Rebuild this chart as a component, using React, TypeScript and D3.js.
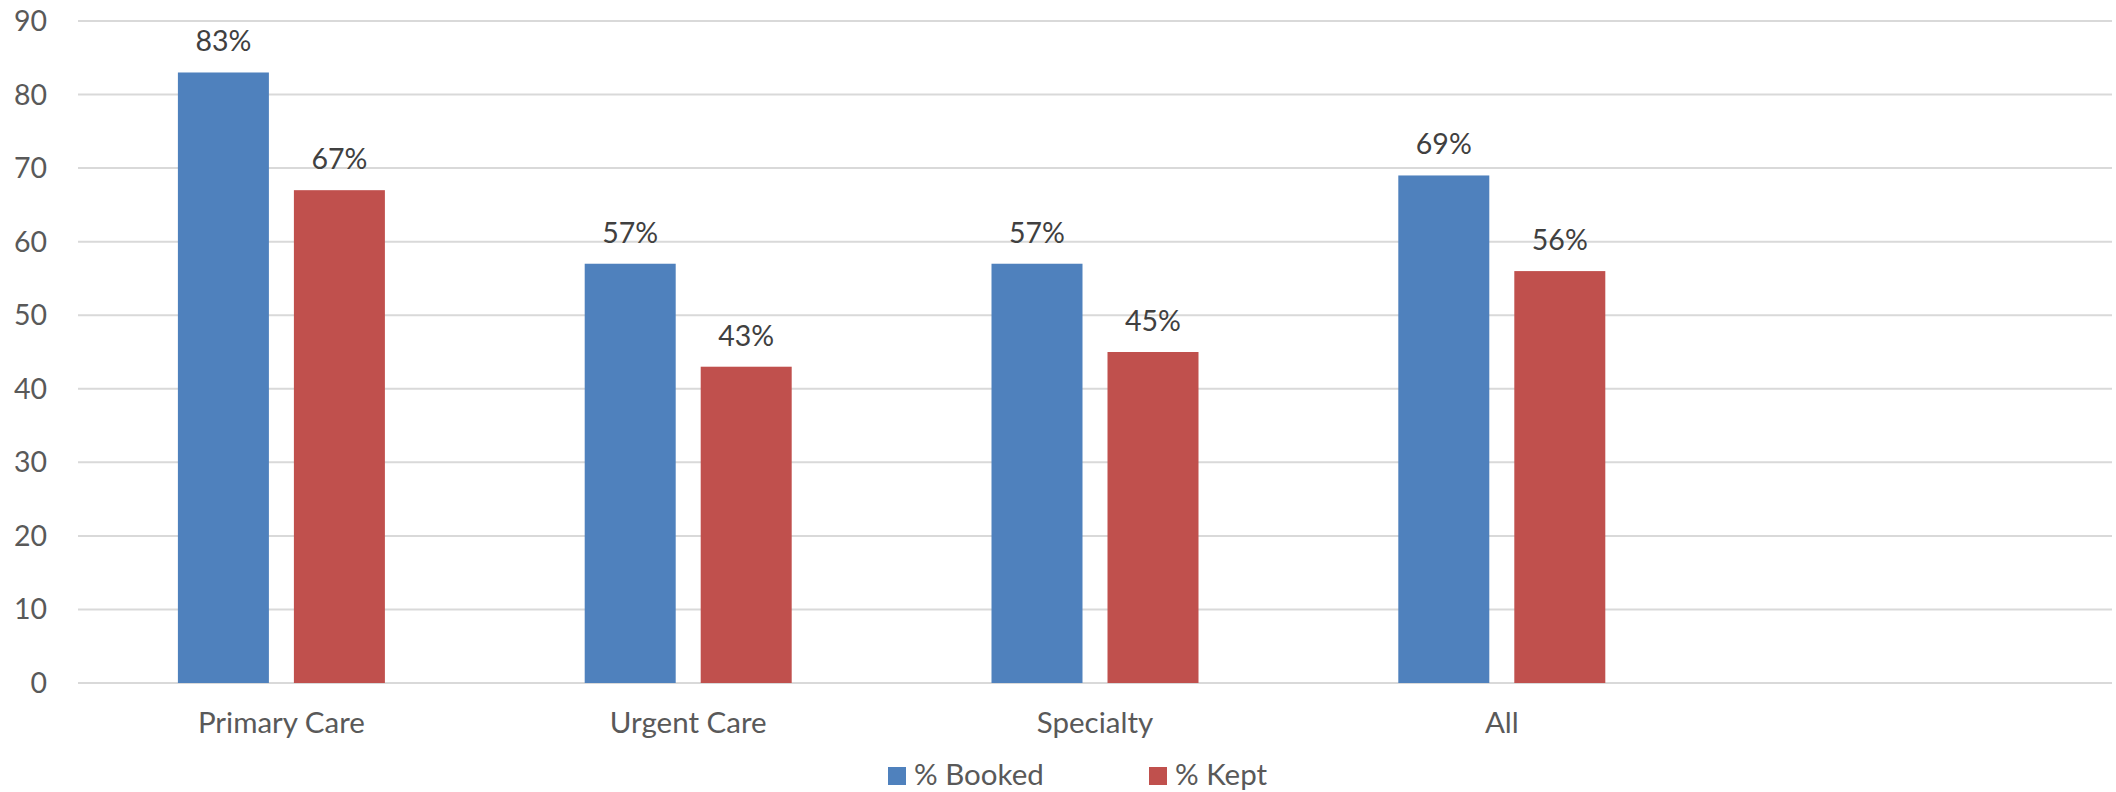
import React from "react";
import * as d3 from "d3";

// Categories along the x axis (the trailing blank slot keeps the empty space on the right)
const categories: string[] = ["Primary Care", "Urgent Care", "Specialty", "All", ""];
const seriesNames: string[] = ["% Booked", "% Kept"];
const bookedValues: number[] = [83, 57, 57, 69];
const keptValues: number[] = [67, 43, 45, 56];
const yTicks: number[] = [0, 10, 20, 30, 40, 50, 60, 70, 80, 90];
const seriesColors: string[] = ["#4F81BD", "#C0504D"];

const WIDTH = 2116;
const HEIGHT = 792;
const FONT = "Lato, 'Liberation Sans', sans-serif";

export default function App() {
  const plotLeft = 78;
  const plotRight = 2112;
  const plotTop = 21;
  const plotBottom = 683;

  const x0 = d3.scaleBand<string>().domain(categories.map((c, i) => `${i}`)).range([plotLeft, plotRight]).padding(0);
  const groupWidth = 207;
  const x1 = d3
    .scaleBand<string>()
    .domain(seriesNames)
    .range([0, groupWidth])
    .paddingInner(25 / 116)
    .paddingOuter(0);
  const y = d3.scaleLinear().domain([0, 90]).range([plotBottom, plotTop]);

  const seriesValues = [bookedValues, keptValues];

  const legendItems = [
    { name: seriesNames[0], color: seriesColors[0], x: 888 },
    { name: seriesNames[1], color: seriesColors[1], x: 1149 },
  ];

  return (
    <svg
      width={WIDTH}
      height={HEIGHT}
      style={{ position: "absolute", left: 0, top: 0, display: "block", background: "#fff" }}
      fontFamily={FONT}
    >
      {/* horizontal gridlines */}
      {yTicks.map((t) => (
        <line key={`g${t}`} x1={plotLeft} x2={plotRight} y1={y(t)} y2={y(t)} stroke="#d9d9d9" strokeWidth={2} />
      ))}
      {/* y tick labels */}
      {yTicks.map((t) => (
        <text
          key={`t${t}`}
          x={47}
          y={y(t)}
          dy="0.35em"
          textAnchor="end"
          fontSize={28.5}
          fill="#595959"
        >
          {t}
        </text>
      ))}
      {/* bars and value labels */}
      {seriesValues.map((vals, si) =>
        vals.map((v, ci) => {
          const bandStart = x0(`${ci}`)!;
          const offset = (x0.bandwidth() - groupWidth) / 2;
          const bx = bandStart + offset + x1(seriesNames[si])!;
          const bw = x1.bandwidth();
          return (
            <g key={`b${si}-${ci}`}>
              <rect x={bx} y={y(v)} width={bw} height={y(0) - y(v)} fill={seriesColors[si]} />
              <text
                x={bx + bw / 2}
                y={y(v) - 21}
                textAnchor="middle"
                fontSize={28.5}
                fill="#404040"
              >
                {`${v}%`}
              </text>
            </g>
          );
        })
      )}
      {/* category labels */}
      {categories.map((c, i) => (
        <text
          key={`c${i}`}
          x={x0(`${i}`)! + x0.bandwidth() / 2}
          y={733}
          textAnchor="middle"
          fontSize={29.5}
          fill="#595959"
        >
          {c}
        </text>
      ))}
      {/* legend */}
      {legendItems.map((item) => (
        <g key={item.name}>
          <rect x={item.x} y={767} width={18} height={18} fill={item.color} />
          <text x={item.x + 26} y={785} fontSize={29.5} fill="#595959">
            {item.name}
          </text>
        </g>
      ))}
    </svg>
  );
}
